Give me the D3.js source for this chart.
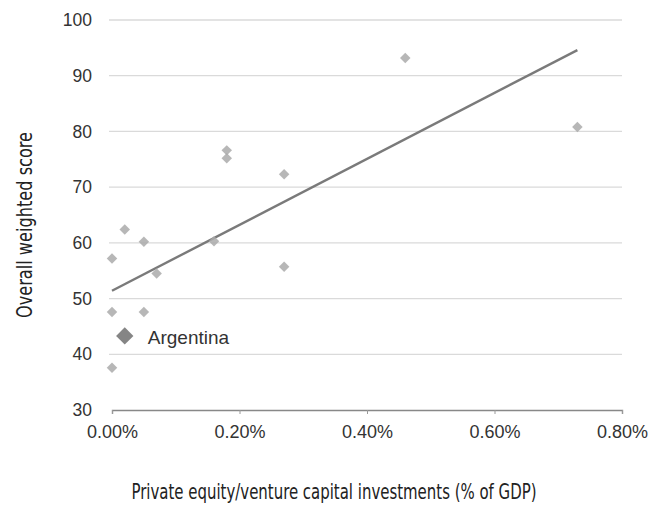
<!DOCTYPE html>
<html><head><meta charset="utf-8">
<script src="https://cdn.jsdelivr.net/npm/d3@7"></script>
<style>body{margin:0;background:#fff}</style>
</head><body>
<script>
const xVals = [0.0046, 0.0073, 0.0018, 0.0018, 0.0027, 0.0027, 0.0016, 0.0007, 0.0005, 0.0002, 0.0000, 0.0000, 0.0005, 0.0000];
const yVals = [93.2, 80.8, 76.6, 75.2, 72.3, 55.7, 60.3, 54.5, 60.2, 62.4, 57.2, 47.6, 47.6, 37.6];
const argX = [0.0002];
const argY = [43.3];
const argLabel = ["Argentina"];
const trendX = [0.0000, 0.0073];
const trendY = [51.4, 94.6];
const xTicks = [0, 0.002, 0.004, 0.006, 0.008];
const yTicks = [30, 40, 50, 60, 70, 80, 90, 100];

const W = 656, H = 506;
const svg = d3.select("body").append("svg").attr("width", W).attr("height", H);
const x = d3.scaleLinear().domain([0, 0.008]).range([112, 622]);
const y = d3.scaleLinear().domain([30, 100]).range([410, 20]);
const sans = "'Liberation Sans', Arial, sans-serif";
const narrow = "'Liberation Sans Narrow', 'DejaVu Sans Condensed', sans-serif";

// gridlines
svg.append("g").selectAll("line").data(yTicks.filter(d => d > 30)).join("line")
  .attr("x1", 109).attr("x2", 622)
  .attr("y1", d => y(d)).attr("y2", d => y(d))
  .attr("stroke", "#dadada").attr("stroke-width", 1.3);

// y axis labels
const ya = svg.append("g").attr("transform", "translate(92,0)")
  .call(d3.axisLeft(y).tickValues(yTicks).tickSize(0).tickPadding(0).tickFormat(d3.format("d")));
ya.select(".domain").remove();
ya.selectAll("text").attr("font-family", sans).attr("font-size", 17.5).attr("fill", "#333");

// x axis
const xa = svg.append("g").attr("transform", "translate(0,410)")
  .call(d3.axisBottom(x).tickValues(xTicks).tickSize(4).tickPadding(11).tickFormat(d3.format(".2%")));
xa.select(".domain").attr("stroke", "#888").attr("stroke-width", 1.4);
xa.selectAll(".tick line").attr("stroke", "#999");
xa.selectAll("text").attr("font-family", sans).attr("font-size", 18).attr("fill", "#333");

const diamond = s => d3.symbol().type(d3.symbolSquare).size(s)();

// trend line
svg.append("line")
  .attr("x1", x(trendX[0])).attr("y1", y(trendY[0]))
  .attr("x2", x(trendX[1])).attr("y2", y(trendY[1]))
  .attr("stroke", "#7a7a7a").attr("stroke-width", 2.4);

// points
svg.append("g").selectAll("path").data(xVals.map((v, i) => [v, yVals[i]])).join("path")
  .attr("d", diamond(55))
  .attr("transform", d => `translate(${x(d[0])},${y(d[1])}) rotate(45)`)
  .attr("fill", "#aaaaaa").attr("opacity", 0.85);

// Argentina
svg.append("g").selectAll("path").data(argX.map((v, i) => [v, argY[i]])).join("path")
  .attr("d", diamond(150))
  .attr("transform", d => `translate(${x(d[0])},${y(d[1])}) rotate(45)`)
  .attr("fill", "#858585");
svg.append("text").attr("x", x(argX[0]) + 23).attr("y", y(argY[0]) + 8)
  .attr("font-family", sans).attr("font-size", 19).attr("fill", "#333")
  .text(argLabel[0]);

// axis titles
svg.append("text").attr("x", 334).attr("y", 499).attr("text-anchor", "middle")
  .attr("font-family", narrow).attr("font-size", 21).attr("fill", "#222")
  .attr("textLength", 405).attr("lengthAdjust", "spacingAndGlyphs")
  .text("Private equity/venture capital investments (% of GDP)");
svg.append("text").attr("transform", "translate(32,225) rotate(-90)").attr("text-anchor", "middle")
  .attr("font-family", narrow).attr("font-size", 21).attr("fill", "#222")
  .attr("textLength", 186).attr("lengthAdjust", "spacingAndGlyphs")
  .text("Overall weighted score");
</script>
</body></html>
